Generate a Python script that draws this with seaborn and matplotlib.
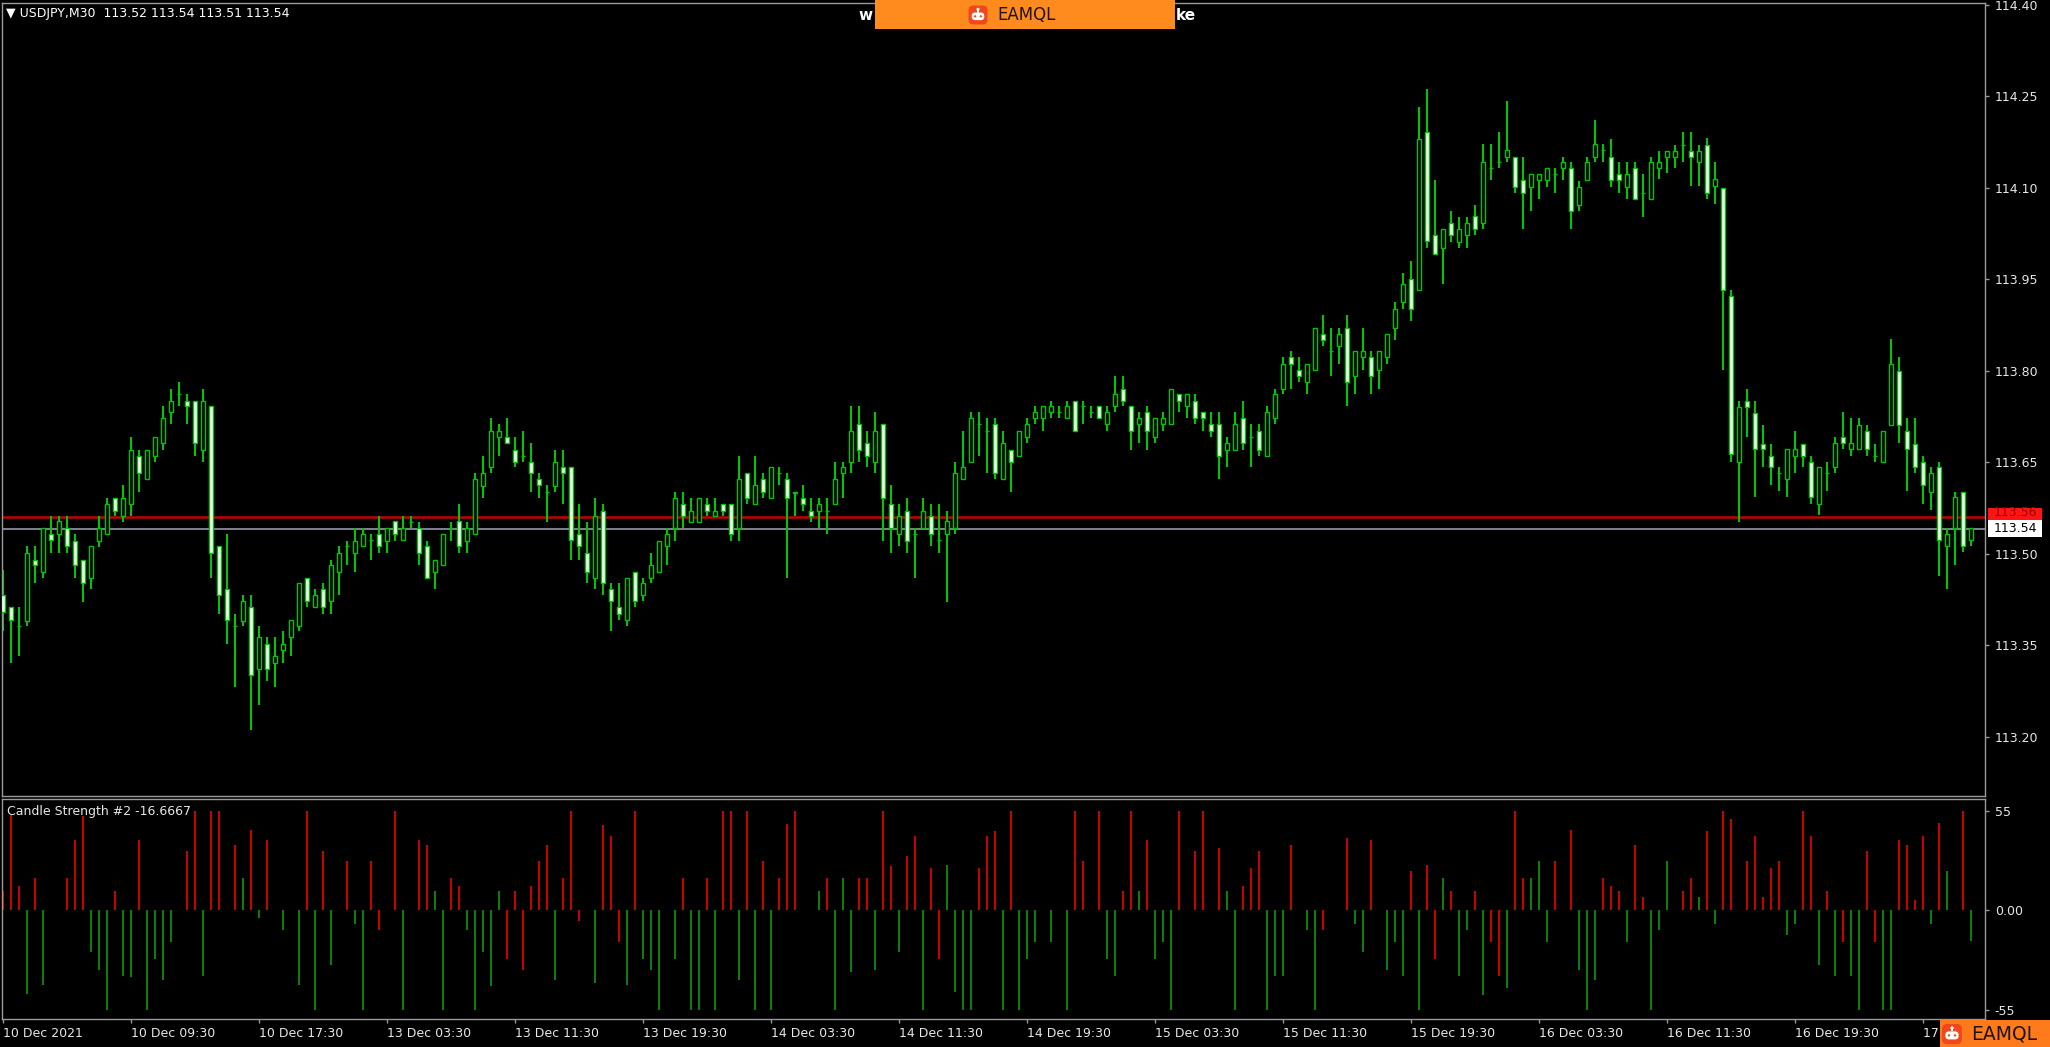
import numpy as np
import pandas as pd
import matplotlib
matplotlib.use("Agg")
import matplotlib.pyplot as plt
import matplotlib.transforms as mtrans
from matplotlib.patches import Rectangle, Ellipse, FancyBboxPatch
import seaborn as sns

# ---------------- data ----------------
opens = [
    113.432, 113.413, 113.381, 113.390, 113.490, 113.471, 113.532, 113.532, 113.542, 113.521,
    113.490, 113.461, 113.521, 113.532, 113.591, 113.562, 113.582, 113.661, 113.622, 113.661,
    113.682, 113.732, 113.762, 113.751, 113.751, 113.671, 113.742, 113.513, 113.442, 113.381,
    113.390, 113.413, 113.312, 113.352, 113.321, 113.342, 113.363, 113.381, 113.461, 113.413,
    113.442, 113.423, 113.471, 113.513, 113.501, 113.513, 113.523, 113.532, 113.521, 113.553,
    113.523, 113.553, 113.542, 113.513, 113.471, 113.481, 113.542, 113.553, 113.521, 113.532,
    113.611, 113.642, 113.691, 113.691, 113.671, 113.661, 113.651, 113.622, 113.601, 113.611,
    113.642, 113.642, 113.532, 113.501, 113.461, 113.571, 113.442, 113.413, 113.392, 113.471,
    113.432, 113.461, 113.471, 113.513, 113.542, 113.582, 113.553, 113.553, 113.582, 113.562,
    113.582, 113.582, 113.542, 113.632, 113.582, 113.622, 113.592, 113.632, 113.622, 113.601,
    113.591, 113.571, 113.571, 113.571, 113.582, 113.632, 113.651, 113.713, 113.682, 113.651,
    113.713, 113.582, 113.532, 113.571, 113.532, 113.542, 113.562, 113.523, 113.532, 113.542,
    113.622, 113.651, 113.713, 113.702, 113.713, 113.622, 113.671, 113.661, 113.691, 113.722,
    113.722, 113.732, 113.732, 113.722, 113.751, 113.742, 113.732, 113.742, 113.713, 113.742,
    113.771, 113.742, 113.713, 113.732, 113.691, 113.713, 113.713, 113.762, 113.742, 113.751,
    113.732, 113.713, 113.713, 113.671, 113.671, 113.722, 113.691, 113.702, 113.661, 113.722,
    113.771, 113.822, 113.801, 113.782, 113.801, 113.861, 113.832, 113.841, 113.871, 113.791,
    113.822, 113.822, 113.801, 113.822, 113.871, 113.913, 113.951, 113.932, 114.191, 114.022,
    114.002, 114.042, 114.011, 114.022, 114.053, 114.042, 114.132, 114.142, 114.151, 114.151,
    114.113, 114.101, 114.113, 114.113, 114.122, 114.132, 114.132, 114.072, 114.113, 114.151,
    114.162, 114.151, 114.122, 114.101, 114.132, 114.092, 114.082, 114.132, 114.151, 114.151,
    114.171, 114.161, 114.142, 114.171, 114.103, 114.100, 113.923, 113.651, 113.751, 113.731,
    113.680, 113.661, 113.632, 113.622, 113.661, 113.680, 113.651, 113.582, 113.632, 113.643,
    113.691, 113.672, 113.672, 113.701, 113.661, 113.651, 113.712, 113.800, 113.701, 113.680,
    113.651, 113.601, 113.643, 113.513, 113.542, 113.601, 113.523,
]
highs = [
    113.473, 113.413, 113.413, 113.513, 113.513, 113.542, 113.562, 113.562, 113.562, 113.532,
    113.490, 113.513, 113.562, 113.592, 113.591, 113.613, 113.691, 113.671, 113.671, 113.691,
    113.742, 113.771, 113.782, 113.762, 113.751, 113.771, 113.742, 113.513, 113.532, 113.402,
    113.432, 113.432, 113.381, 113.363, 113.363, 113.373, 113.392, 113.452, 113.461, 113.442,
    113.452, 113.490, 113.513, 113.521, 113.542, 113.542, 113.532, 113.562, 113.542, 113.553,
    113.562, 113.562, 113.553, 113.521, 113.490, 113.532, 113.553, 113.582, 113.553, 113.632,
    113.661, 113.722, 113.713, 113.722, 113.691, 113.702, 113.682, 113.632, 113.613, 113.671,
    113.671, 113.642, 113.582, 113.553, 113.592, 113.582, 113.452, 113.452, 113.461, 113.471,
    113.461, 113.501, 113.521, 113.542, 113.601, 113.601, 113.592, 113.592, 113.592, 113.592,
    113.582, 113.582, 113.661, 113.632, 113.661, 113.632, 113.642, 113.642, 113.632, 113.601,
    113.613, 113.592, 113.592, 113.592, 113.651, 113.651, 113.742, 113.742, 113.702, 113.732,
    113.713, 113.613, 113.582, 113.592, 113.542, 113.592, 113.582, 113.582, 113.571, 113.651,
    113.702, 113.732, 113.732, 113.722, 113.722, 113.702, 113.671, 113.702, 113.722, 113.742,
    113.742, 113.751, 113.742, 113.751, 113.751, 113.751, 113.742, 113.742, 113.742, 113.792,
    113.792, 113.742, 113.732, 113.742, 113.722, 113.732, 113.771, 113.762, 113.762, 113.762,
    113.732, 113.732, 113.732, 113.691, 113.732, 113.751, 113.713, 113.713, 113.742, 113.771,
    113.822, 113.832, 113.822, 113.811, 113.871, 113.891, 113.871, 113.871, 113.891, 113.832,
    113.871, 113.832, 113.832, 113.861, 113.913, 113.961, 113.980, 114.232, 114.262, 114.113,
    114.032, 114.062, 114.053, 114.053, 114.072, 114.172, 114.172, 114.191, 114.243, 114.151,
    114.151, 114.122, 114.122, 114.132, 114.132, 114.151, 114.142, 114.111, 114.151, 114.211,
    114.172, 114.180, 114.142, 114.142, 114.142, 114.122, 114.151, 114.161, 114.161, 114.171,
    114.191, 114.191, 114.171, 114.181, 114.142, 114.100, 113.933, 113.751, 113.771, 113.751,
    113.712, 113.680, 113.643, 113.672, 113.701, 113.680, 113.661, 113.643, 113.651, 113.691,
    113.732, 113.722, 113.722, 113.712, 113.680, 113.701, 113.852, 113.823, 113.722, 113.722,
    113.661, 113.643, 113.651, 113.542, 113.601, 113.601, 113.542,
]
lows = [
    113.373, 113.321, 113.332, 113.381, 113.452, 113.461, 113.501, 113.501, 113.501, 113.461,
    113.421, 113.442, 113.511, 113.532, 113.562, 113.553, 113.562, 113.601, 113.622, 113.651,
    113.671, 113.713, 113.742, 113.713, 113.661, 113.651, 113.461, 113.401, 113.352, 113.281,
    113.381, 113.212, 113.252, 113.292, 113.281, 113.321, 113.332, 113.373, 113.413, 113.413,
    113.402, 113.402, 113.432, 113.481, 113.471, 113.513, 113.490, 113.501, 113.501, 113.521,
    113.521, 113.542, 113.481, 113.461, 113.442, 113.481, 113.521, 113.501, 113.501, 113.532,
    113.592, 113.632, 113.661, 113.682, 113.642, 113.651, 113.601, 113.592, 113.553, 113.601,
    113.582, 113.490, 113.490, 113.452, 113.442, 113.432, 113.373, 113.392, 113.381, 113.413,
    113.423, 113.452, 113.471, 113.481, 113.521, 113.542, 113.553, 113.553, 113.562, 113.562,
    113.562, 113.521, 113.521, 113.582, 113.582, 113.592, 113.592, 113.613, 113.461, 113.562,
    113.571, 113.553, 113.542, 113.532, 113.582, 113.592, 113.632, 113.651, 113.642, 113.632,
    113.521, 113.501, 113.513, 113.501, 113.461, 113.542, 113.513, 113.501, 113.421, 113.532,
    113.622, 113.651, 113.661, 113.632, 113.622, 113.622, 113.601, 113.661, 113.682, 113.713,
    113.702, 113.722, 113.722, 113.722, 113.702, 113.713, 113.722, 113.722, 113.702, 113.732,
    113.742, 113.671, 113.682, 113.671, 113.682, 113.702, 113.713, 113.732, 113.722, 113.713,
    113.702, 113.691, 113.622, 113.642, 113.671, 113.671, 113.642, 113.661, 113.661, 113.713,
    113.762, 113.771, 113.782, 113.762, 113.801, 113.841, 113.792, 113.811, 113.742, 113.762,
    113.801, 113.762, 113.771, 113.811, 113.851, 113.902, 113.882, 113.932, 114.002, 113.992,
    113.942, 114.011, 114.002, 114.002, 114.022, 114.032, 114.113, 114.132, 114.142, 114.092,
    114.032, 114.062, 114.082, 114.101, 114.092, 114.113, 114.032, 114.062, 114.113, 114.142,
    114.142, 114.101, 114.092, 114.082, 114.082, 114.053, 114.082, 114.114, 114.124, 114.132,
    114.142, 114.103, 114.103, 114.082, 114.073, 113.802, 113.651, 113.553, 113.691, 113.593,
    113.643, 113.613, 113.603, 113.593, 113.632, 113.643, 113.582, 113.563, 113.603, 113.632,
    113.672, 113.661, 113.672, 113.661, 113.651, 113.651, 113.712, 113.682, 113.603, 113.632,
    113.582, 113.572, 113.463, 113.442, 113.481, 113.503, 113.513,
]
closes = [
    113.404, 113.392, 113.381, 113.501, 113.481, 113.542, 113.523, 113.553, 113.513, 113.481,
    113.452, 113.513, 113.542, 113.582, 113.571, 113.591, 113.671, 113.632, 113.671, 113.691,
    113.722, 113.751, 113.762, 113.742, 113.682, 113.751, 113.501, 113.432, 113.392, 113.381,
    113.423, 113.301, 113.363, 113.312, 113.333, 113.352, 113.392, 113.452, 113.423, 113.432,
    113.413, 113.481, 113.501, 113.513, 113.521, 113.532, 113.523, 113.513, 113.542, 113.532,
    113.542, 113.553, 113.501, 113.461, 113.490, 113.532, 113.542, 113.513, 113.542, 113.622,
    113.632, 113.702, 113.702, 113.682, 113.651, 113.661, 113.632, 113.613, 113.601, 113.651,
    113.632, 113.523, 113.513, 113.471, 113.562, 113.452, 113.423, 113.402, 113.461, 113.423,
    113.452, 113.481, 113.521, 113.532, 113.592, 113.562, 113.571, 113.592, 113.571, 113.571,
    113.571, 113.532, 113.622, 113.592, 113.613, 113.601, 113.642, 113.632, 113.592, 113.599,
    113.582, 113.562, 113.582, 113.571, 113.622, 113.642, 113.702, 113.671, 113.661, 113.702,
    113.592, 113.542, 113.562, 113.521, 113.532, 113.571, 113.532, 113.523, 113.553, 113.632,
    113.642, 113.722, 113.713, 113.702, 113.632, 113.682, 113.651, 113.702, 113.713, 113.732,
    113.742, 113.742, 113.732, 113.742, 113.702, 113.742, 113.732, 113.722, 113.732, 113.762,
    113.751, 113.702, 113.722, 113.702, 113.722, 113.722, 113.771, 113.751, 113.762, 113.722,
    113.722, 113.702, 113.661, 113.682, 113.713, 113.682, 113.691, 113.671, 113.732, 113.762,
    113.811, 113.811, 113.792, 113.811, 113.871, 113.851, 113.832, 113.861, 113.782, 113.832,
    113.832, 113.792, 113.832, 113.861, 113.902, 113.942, 113.902, 114.180, 114.013, 113.992,
    114.032, 114.022, 114.032, 114.042, 114.032, 114.142, 114.132, 114.142, 114.162, 114.101,
    114.092, 114.122, 114.122, 114.132, 114.122, 114.142, 114.062, 114.101, 114.142, 114.172,
    114.162, 114.113, 114.113, 114.122, 114.082, 114.092, 114.142, 114.142, 114.161, 114.161,
    114.171, 114.151, 114.161, 114.092, 114.114, 113.933, 113.664, 113.741, 113.741, 113.672,
    113.672, 113.643, 113.632, 113.672, 113.672, 113.661, 113.593, 113.643, 113.632, 113.682,
    113.682, 113.682, 113.712, 113.672, 113.661, 113.701, 113.812, 113.712, 113.672, 113.643,
    113.613, 113.632, 113.523, 113.532, 113.593, 113.513, 113.542,
]

strength = [
    10.5, 53, 13.6, -46, 17.8, -41, 0, 0, 17.8, 39,
    52, -23, -33, -55, 10.5, -36, -37, 39, -55, -27,
    -38.6, -17.7, 0, 33, 55, -36, 55, 55, 0, 36,
    17.8, 44.5, -3.9, 39, 0, -10.7, 0, -41, 55, -55,
    33, -30, 0, 27.4, -7.4, -55, 27.4, -10.7, 0, 55,
    -55, 0, 39, 36, 10.5, -55, 17.8, 13.6, -10.7, -55,
    -23, -42, 10.5, -27, 10.5, -33, 13.6, 27.4, 36, -38.6,
    17.8, 55, -5.7, 0, -40, 47, 41, -17.7, -41, 55,
    -27, -33, -55, 0, -27, 17.8, -55, -55, 17.8, -55,
    55, 55, -38.6, 55, -55, 27.4, -55, 17.8, 48, 55,
    0, 0, 10.5, 17.8, -55, 17.8, -34, 17.8, 17.8, -33,
    55, 24.7, -23, 30, 41, -55, 23.4, -27, 25, -45,
    -55, -55, 23.4, 41, 44, -55, 55, -55, -27, -17.7,
    0, -17.7, 0, -55, 55, 27.4, 0, 55, -27, -36,
    10.5, 55, 10.5, 39, -27, -17.7, -55, 55, 0, 33,
    55, 0, 34.4, 10.5, -55, 13.6, 23.4, 33, -55, -36,
    -36, 36, 0, -10.7, -55, -10.7, 0, 0, 40, -7.4,
    -23, 39, 0, -33, -17.7, -36, 22, -55, 25, -27,
    17.8, 10.5, -36, -10.7, 10.5, -46.5, -17.7, -36, -43, 55,
    17.8, 17.8, 27.4, -17.7, 27.4, 0, 44.5, -33, -55, -38.6,
    17.8, 13.6, 10.5, -17.7, 36, 7.7, -55, -10.7, 27.4, 0,
    10.5, 17.8, 7.7, 44, -7.4, 55, 50.6, 0, 27.4, 41,
    7.7, 23.4, 27.4, -13.4, -7.4, 55, 41, -30, 10.5, -36,
    -17.7, -36, -55, 33, -17.7, -55, -55, 39, 36, 5.9,
    41, -7.4, 48.6, 22, 0, 55, -16.7,
]
# r = red buffer, g = green buffer (one letter per bar)
strength_kind = list(
    "rrrgrgggrr" "rgggrggrgg" "gggrrgrrgr" "grgrggggrg" "rggrggrrgr"
    "ggrrggrrgg" "gggrrrrrrg" "rrrggrrrgr" "gggggrggrg" "rrgrgrgrrr"
    "gggrgggrrg" "rrgrrgrrgg" "ggrrrgrggg" "ggggrrgrgg" "rrgrgggrgr"
    "rgrggrrrgg" "grgggrggrg" "grggggrgrr" "grggrgrrgr" "rgggrgrggg"
    "rrrgrrgggg" "rrgrgrrgrr" "rrrggrrgrg" "rggrrggrrr" "rgrggrg"
)
price_ticks = [113.20, 113.35, 113.50, 113.65, 113.80, 113.95, 114.10, 114.25, 114.40]
date_labels = ["10 Dec 2021", "10 Dec 09:30", "10 Dec 17:30", "13 Dec 03:30",
               "13 Dec 11:30", "13 Dec 19:30", "14 Dec 03:30", "14 Dec 11:30",
               "14 Dec 19:30", "15 Dec 03:30", "15 Dec 11:30", "15 Dec 19:30",
               "16 Dec 03:30", "16 Dec 11:30", "16 Dec 19:30", "17 Dec 03:30"]
bars_per_label = 16
ask_price, bid_price = 113.56, 113.54
header = "\u25BC USDJPY,M30  113.52 113.54 113.51 113.54"
indicator_title = "Candle Strength #2 -16.6667"

# ---------------- style ----------------
sns.set_theme(style="dark", rc={
    "figure.facecolor": "black", "axes.facecolor": "black",
    "axes.edgecolor": "#9a9a9a", "axes.grid": False,
    "text.color": "#e8e8e8", "xtick.color": "#9a9a9a", "ytick.color": "#9a9a9a",
})
plt.rcParams["font.family"] = ["DejaVu Sans"]

GREEN = "#06c206"
RED_I = "#c80000"
GREEN_I = "#0a7d0a"
LABEL_C = "#e6e6e6"

W, H = 2050, 1047
fig = plt.figure(figsize=(W / 100, H / 100), dpi=100, facecolor="black")


def px_rect(l, t, r, b):
    return [l / W, 1 - b / H, (r - l) / W, (b - t) / H]


ax = fig.add_axes(px_rect(2, 3, 1985, 796))
axi = fig.add_axes(px_rect(2, 799, 1985, 1019))

n = len(opens)
o, hi, lo, c = (np.array(a) for a in (opens, highs, lows, closes))
x = np.arange(n)
up = c >= o

# price lines (behind candles)
ax.axhline(ask_price, color="#c40000", lw=1.8, zorder=1)
ax.axhline(bid_price, color="#8a8c9a", lw=1.3, zorder=1)

# candles
ax.vlines(x, lo, hi, color=GREEN, lw=1.5, zorder=2)
ax.bar(x, np.abs(c - o), bottom=np.minimum(o, c), width=0.56,
       color=np.where(up, "black", "white"), edgecolor=GREEN, linewidth=1.0, zorder=3)

xmin, xmax = -0.125, 247.75
ax.set_xlim(xmin, xmax)
ax.set_ylim(113.103, 114.403)
ax.set_xticks([])
ax.yaxis.tick_right()
ax.set_yticks(price_ticks)
ax.set_yticklabels([f"{v:.2f}" for v in price_ticks])
ax.tick_params(axis="y", which="both", right=True, left=False, length=3, width=1,
               pad=4, labelsize=9, labelcolor=LABEL_C, color="#9a9a9a")
for s in ax.spines.values():
    s.set_color("#9a9a9a"); s.set_linewidth(1)

# price labels on the right
bt = mtrans.blended_transform_factory(ax.transAxes, ax.transData)
bw = 54 / 1983
ax.add_patch(Rectangle((1.0016, 113.556), bw, 0.019, transform=bt, clip_on=False,
                       fc="#ff1414", ec="none", zorder=5))
ax.text(1.0016 + bw / 2, 113.567, f"{ask_price:.2f}", transform=bt, ha="center", va="center",
        fontsize=9, color="#9a0000", clip_on=False, zorder=6)
ax.add_patch(Rectangle((1.0016, 113.528), bw, 0.028, transform=bt, clip_on=False,
                       fc="white", ec="none", zorder=7))
ax.text(1.0016 + bw / 2, 113.542, f"{bid_price:.2f}", transform=bt, ha="center", va="center",
        fontsize=9, color="black", clip_on=False, zorder=8)

# indicator panel (seaborn)
df = pd.DataFrame({"bar": x, "value": strength, "kind": strength_kind})
sns.barplot(data=df, x="bar", y="value", hue="kind", palette={"r": RED_I, "g": GREEN_I},
            native_scale=True, dodge=False, width=0.26, errorbar=None, legend=False,
            saturation=1, linewidth=0, ax=axi)
axi.set_xlim(xmin, xmax)
axi.set_ylim(-60, 61.6)
axi.set_xlabel(""); axi.set_ylabel("")
axi.yaxis.tick_right()
axi.set_yticks([-55, 0, 55])
axi.set_yticklabels(["-55", "0.00", "55"])
axi.tick_params(axis="y", right=True, left=False, length=3, width=1, pad=4,
                labelsize=9, labelcolor=LABEL_C, color="#9a9a9a")
xt = np.arange(len(date_labels)) * bars_per_label
axi.set_xticks(xt)
axi.set_xticklabels(date_labels)
axi.tick_params(axis="x", bottom=True, length=3, width=1, pad=3, labelsize=9,
                labelcolor=LABEL_C, color="#9a9a9a")
for lab in axi.get_xticklabels():
    lab.set_ha("left")
for s in axi.spines.values():
    s.set_color("#9a9a9a"); s.set_linewidth(1)

# texts
fig.text(6 / W, 1 - 14 / H, header, color="white", fontsize=9, va="center", ha="left")
fig.text(7 / W, 1 - 812 / H, indicator_title, color=LABEL_C, fontsize=9, va="center", ha="left")
fig.text(873 / W, 1 - 15 / H, "w", color="white", fontsize=11, fontweight="bold",
         va="center", ha="right")
fig.text(1176 / W, 1 - 15 / H, "ke", color="white", fontsize=11, fontweight="bold",
         va="center", ha="left")

# logos drawn in pixel-true (inch) coordinates so shapes stay round
T = fig.dpi_scale_trans


def P(px, py):
    return (px / 100.0, (H - py) / 100.0)


def logo(cx, cy, s, tx, size):
    icon_c = "#f2471c"
    fig.add_artist(FancyBboxPatch(P(cx - s / 2, cy + s / 2), s / 100, s / 100,
                                  boxstyle="round,pad=0,rounding_size=%f" % (0.25 * s / 100),
                                  transform=T, fc=icon_c, ec="none", zorder=21))
    fig.add_artist(FancyBboxPatch(P(cx - 0.33 * s, cy + 0.27 * s), 0.66 * s / 100, 0.4 * s / 100,
                                  boxstyle="round,pad=0,rounding_size=%f" % (0.18 * s / 100),
                                  transform=T, fc="white", ec="none", zorder=22))
    fig.add_artist(Rectangle(P(cx - 0.04 * s, cy - 0.13 * s), 0.08 * s / 100, 0.14 * s / 100,
                             transform=T, fc="white", ec="none", zorder=22))
    fig.add_artist(Ellipse(P(cx, cy - 0.3 * s), 0.16 * s / 100, 0.16 * s / 100,
                           transform=T, fc="white", ec="none", zorder=22))
    for dx in (-0.15 * s, 0.15 * s):
        fig.add_artist(Ellipse(P(cx + dx, cy + 0.07 * s), 0.12 * s / 100, 0.12 * s / 100,
                               transform=T, fc=icon_c, ec="none", zorder=23))
    fig.text(tx / W, 1 - cy / H, "EAMQL", color="#1e140e", fontsize=size, va="center",
             ha="left", zorder=24)


# top banner
fig.add_artist(Rectangle((875 / W, 1 - 29 / H), 300 / W, 29 / H, transform=fig.transFigure,
                         fc="#ff8a1e", ec="none", zorder=20))
logo(978, 15, 19, 997, 12)

# bottom-right badge
fig.add_artist(Rectangle((1940 / W, 0), 110 / W, 27 / H, transform=fig.transFigure,
                         fc="#ff7a1a", ec="none", zorder=20))
logo(1952, 1034, 20, 1971, 13.5)

fig.savefig("out.png", dpi=100, facecolor="black")
